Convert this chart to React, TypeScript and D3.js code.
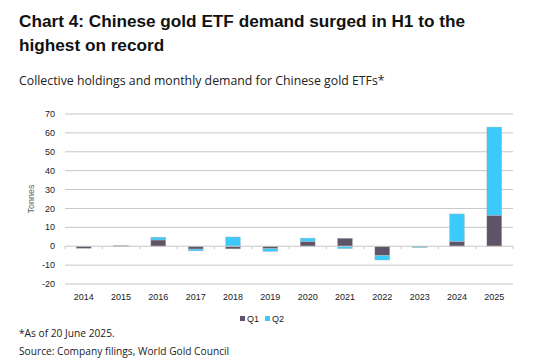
import React from "react";
import * as d3 from "d3";

const years = ["2014","2015","2016","2017","2018","2019","2020","2021","2022","2023","2024","2025"];
const q1 = [-1.1, 0.3, 3.3, -1.5, -1.4, -1.3, 2.5, 4.2, -4.9, -0.2, 2.6, 16.4];
const q2 = [0.0, 0.0, 1.5, -1.0, 4.9, -1.5, 1.8, -1.3, -2.4, -0.5, 14.5, 46.7];
const yTicks = [-20, -10, 0, 10, 20, 30, 40, 50, 60, 70];
const seriesNames = ["Q1", "Q2"];
const colors = ["#5f5367", "#3cc9fb"];

const W = 541, H = 362;
const plot = { left: 65, right: 513, top: 114, bottom: 284 };

export default function App() {
  const x = d3.scaleBand<string>().domain(years).range([plot.left, plot.right]).paddingInner(0.6).paddingOuter(0.3);
  const xb = d3.scaleBand<string>().domain(years).range([plot.left, plot.right]);
  const y = d3.scaleLinear().domain([-20, 70]).range([plot.bottom, plot.top]);

  const bars: React.ReactNode[] = [];
  years.forEach((yr, i) => {
    let posBase = 0, negBase = 0;
    [q1[i], q2[i]].forEach((v, s) => {
      if (v === 0) return;
      let y0: number, y1: number;
      if (v >= 0) { y0 = posBase; y1 = posBase + v; posBase = y1; }
      else { y0 = negBase; y1 = negBase + v; negBase = y1; }
      const top = y(Math.max(y0, y1));
      const bot = y(Math.min(y0, y1));
      bars.push(
        <rect key={yr + s} x={x(yr)} y={top} width={x.bandwidth()} height={Math.max(bot - top, 0.8)}
          fill={colors[s]} stroke="#b8b8b8" strokeWidth={0.4} />
      );
    });
  });

  const sans = "'Liberation Sans', Arial, sans-serif";
  const open = "'Open Sans', sans-serif";

  return (
    <div style={{ position: "absolute", left: 0, top: 0, width: W, height: H, background: "#fff" }}>
      <svg width={W} height={H} style={{ display: "block" }}>
        <rect width={W} height={H} fill="#fff" />
        <text x={19} y={27} fontFamily={sans} fontWeight="bold" fontSize={17.2} fill="#111">Chart 4: Chinese gold ETF demand surged in H1 to the</text>
        <text x={19} y={51} fontFamily={sans} fontWeight="bold" fontSize={17.2} fill="#111">highest on record</text>
        <text x={19} y={85} fontFamily={open} fontSize={12.3} fill="#222">Collective holdings and monthly demand for Chinese gold ETFs*</text>

        {yTicks.filter(t => t !== 0).map(t => (
          <line key={t} x1={plot.left} x2={plot.right} y1={y(t)} y2={y(t)} stroke="#c6c6c6" strokeWidth={1} />
        ))}
        {yTicks.map(t => (
          <text key={"l" + t} x={55} y={y(t)} dy="0.35em" textAnchor="end" fontFamily={sans} fontSize={9} fill="#222">{t}</text>
        ))}
        <text transform={`translate(34,${y(25)}) rotate(-90)`} textAnchor="middle" fontFamily={sans} fontSize={9} fill="#666">Tonnes</text>

        {bars}

        <line x1={plot.left} x2={plot.right} y1={y(0)} y2={y(0)} stroke="#c6c6c6" strokeWidth={1} />
        {d3.range(years.length + 1).map(i => {
          const xx = plot.left + i * xb.step();
          return <line key={"t" + i} x1={xx} x2={xx} y1={y(0)} y2={y(0) + 3} stroke="#c6c6c6" strokeWidth={1} />;
        })}

        {years.map(yr => (
          <text key={"x" + yr} x={(xb(yr) as number) + xb.bandwidth() / 2} y={300} textAnchor="middle" fontFamily={sans} fontSize={9} fill="#222">{yr}</text>
        ))}

        <g fontFamily={sans} fontSize={9} fill="#222">
          <rect x={240} y={316} width={5} height={5} fill={colors[0]} />
          <text x={247} y={322}>{seriesNames[0]}</text>
          <rect x={265} y={316} width={5} height={5} fill={colors[1]} />
          <text x={272} y={322}>{seriesNames[1]}</text>
        </g>

        <text x={19} y={337} fontFamily={open} fontSize={10.2} fill="#222">*As of 20 June 2025.</text>
        <text x={19} y={355} fontFamily={open} fontSize={10.2} fill="#222">Source: Company filings, World Gold Council</text>
      </svg>
    </div>
  );
}
